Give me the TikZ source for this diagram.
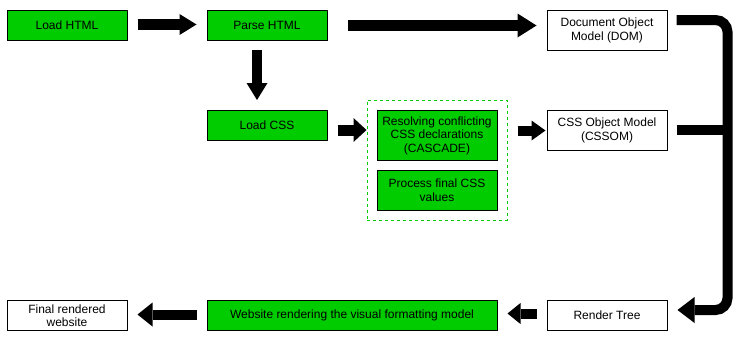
\documentclass[tikz,border=0pt]{standalone}
\usepackage{fontspec}
\setmainfont{Liberation Sans}
\usetikzlibrary{arrows.meta,calc}
\definecolor{boxgreen}{HTML}{00CC00}
\tikzset{
  box/.style={draw=black, line width=1pt, minimum width=120pt, minimum height=30pt,
    inner sep=0pt, align=center, font=\fontsize{12}{13.5}\selectfont},
  greenbox/.style={box, fill=boxgreen},
  whitebox/.style={box, fill=white},
  groupframe/.style={draw=boxgreen, line width=1pt, dash pattern=on 3pt off 3pt,
    minimum width=140pt, minimum height=120pt, inner sep=0pt},
  fat/.style n args={3}{line width=#1, line cap=butt,
    -{Triangle[length=#2, width=#3, line width=0pt]}},
  rail/.style={line width=10pt, line cap=butt, rounded corners=12pt},
}
\begin{document}
\begin{tikzpicture}[x=1pt, y=-1pt]
\useasboundingbox (0,0) rectangle (740,340);

% processing group frame
\node[groupframe] (grp) at (437,160) {};

% stages
\node[greenbox] (lhtml) at (67,25.5) {Load HTML};
\node[greenbox] (phtml) at (267,25.5) {Parse HTML};
\node[whitebox, minimum height=40pt] (dom) at (607,30.5) {Document Object\\Model (DOM)};
\node[greenbox] (lcss) at (267,125.5) {Load CSS};
\node[greenbox, minimum height=50pt] (res) at (437,135.5) {Resolving conflicting\\CSS declarations\\(CASCADE)};
\node[greenbox, minimum height=40pt] (proc) at (437,190) {Process final CSS\\values};
\node[whitebox, minimum height=40pt] (cssom) at (607,130.5) {CSS Object Model\\(CSSOM)};
\node[whitebox] (render) at (607,315.5) {Render Tree};
\node[greenbox, minimum width=290pt] (web) at (352,315.5) {Website rendering the visual formatting model};
\node[whitebox] (final) at (67,315.5) {Final rendered\\website};

% thick flow arrows
\draw[fat={11pt}{17pt}{21pt}] ($(lhtml.east)+(10,-1)$) -- ($(phtml.west)+(-10,-1)$);
\draw[fat={11pt}{19pt}{24pt}] ($(phtml.east)+(20,0)$) -- ($(phtml.east -| dom.west)+(-10,0)$);
\draw[fat={10pt}{17pt}{21pt}] ($(phtml.south)+(-10,9)$) -- ($(lcss.north)+(-10,-10)$);
\draw[fat={11pt}{13pt}{24pt}] ($(lcss.east)+(10,4.5)$) -- ($(lcss.east -| grp.west)+(0,4.5)$);
\draw[fat={10pt}{14pt}{20pt}] ($(cssom.west -| grp.east)+(10,0)$) -- ($(cssom.west)+(-1,0)$);
\draw[fat={10pt}{13pt}{21pt}] ($(render.west)+(-10,-2)$) -- ($(web.east)+(10,-2)$);
\draw[fat={10pt}{15pt}{24pt}] ($(web.west)+(-10,-1)$) -- ($(final.east)+(10,-1)$);

% rail collecting DOM and CSSOM into the render tree
\draw[rail, -{Triangle[length=17pt, width=26pt, line width=0pt]}]
  ($(dom.east)+(9,-10.5)$) -| ($(render.east)+(60,-5.5)$) -- ($(render.east)+(10,-5.5)$);
\draw[rail] ($(cssom.east)+(9,-0.5)$) -- ($(cssom.east)+(60,-0.5)$);

\end{tikzpicture}
\end{document}
